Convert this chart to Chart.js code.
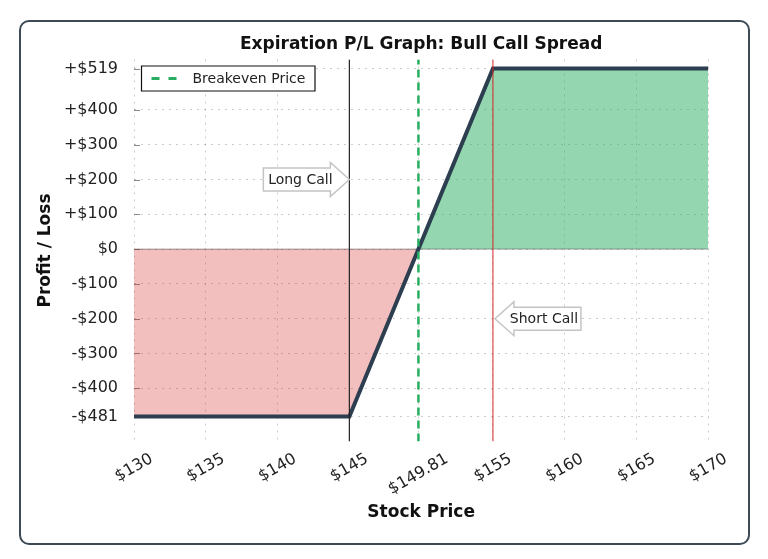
<!DOCTYPE html>
<html>
<head>
<meta charset="utf-8">
<script src="https://cdn.jsdelivr.net/npm/chart.js@4.4.1/dist/chart.umd.min.js"></script>
<style>
	html, body { margin: 0; padding: 0; background: #fff; }
	#wrap { position: relative; width: 768px; height: 559px; }
	#card {
		position: absolute; left: 19px; top: 20px; width: 731px; height: 525px;
		box-sizing: border-box; border: 2px solid #3c4a56; border-radius: 10px;
	}
	#chart { position: absolute; left: 0; top: 0; }
</style>
</head>
<body>
<div id="wrap">
	<div id="card"></div>
	<canvas id="chart" width="768" height="559"></canvas>
</div>
<script>
// bull call spread: long 145 call, short 155 call
const priceRange = [130, 170];
const strikes = [145, 155];
const breakeven = 149.81;
const plPrices = [130, 145, 155, 170];
const plValues = [-481, -481, 519, 519];
const xTicks = [130, 135, 140, 145, 149.81, 155, 160, 165, 170];
const yTicks = [-481, -400, -300, -200, -100, 0, 100, 200, 300, 400, 519];
const yLimits = [-553, 545];
const callLabels = ['Long Call', 'Short Call'];
const callLabelValues = [200, -200];

const FONT = "'DejaVu Sans', 'Liberation Sans', sans-serif";
const LINE = '#2c3e50';
const GREEN = '#27ae60';
const RED = '#d62728';

function money(v) {
	if (v > 0) return '+$' + v;
	if (v < 0) return '-$' + Math.abs(v);
	return '$0';
}

function pts(xs, ys) {
	return xs.map((x, i) => ({x: x, y: ys[i]}));
}

// loss side up to breakeven, profit side after it
const lossPts = pts(plPrices.filter(p => p < breakeven), plValues.filter((v, i) => plPrices[i] < breakeven));
lossPts.push({x: breakeven, y: 0});
const gainPts = [{x: breakeven, y: 0}].concat(pts(plPrices.filter(p => p > breakeven), plValues.filter((v, i) => plPrices[i] > breakeven)));

function vline(x) {
	return [{x: x, y: yLimits[0]}, {x: x, y: yLimits[1]}];
}

function arrowBox(ctx, tipX, tipY, dir, text) {
	const s = dir === 'right' ? -1 : 1;
	const head = 19, headH = 17, bodyH = 11.5, bodyLen = 86;
	ctx.save();
	ctx.beginPath();
	ctx.moveTo(tipX, tipY);
	ctx.lineTo(tipX + s * head, tipY - headH);
	ctx.lineTo(tipX + s * head, tipY - bodyH);
	ctx.lineTo(tipX + s * bodyLen, tipY - bodyH);
	ctx.lineTo(tipX + s * bodyLen, tipY + bodyH);
	ctx.lineTo(tipX + s * head, tipY + bodyH);
	ctx.lineTo(tipX + s * head, tipY + headH);
	ctx.closePath();
	ctx.fillStyle = '#fff';
	ctx.fill();
	ctx.strokeStyle = '#c4c4c4';
	ctx.lineWidth = 1.5;
	ctx.stroke();
	ctx.fillStyle = '#222';
	ctx.font = '14px ' + FONT;
	ctx.textAlign = 'center';
	ctx.textBaseline = 'middle';
	ctx.fillText(text, tipX + s * 49, tipY + 1);
	ctx.restore();
}

const decorations = {
	id: 'decorations',
	beforeDatasetsDraw(chart) {
		const {ctx, chartArea} = chart;
		const y = chart.scales.y;
		ctx.save();
		ctx.strokeStyle = '#8a8a8a';
		ctx.lineWidth = 1;
		yTicks.forEach(v => {
			const py = Math.round(y.getPixelForValue(v)) + 0.5;
			ctx.beginPath();
			ctx.moveTo(chartArea.left, py);
			ctx.lineTo(chartArea.left + 6, py);
			ctx.stroke();
		});
		ctx.restore();
	},
	afterDraw(chart) {
		const {ctx, chartArea} = chart;
		const x = chart.scales.x;
		const y = chart.scales.y;

		// title
		ctx.save();
		ctx.fillStyle = '#111';
		ctx.font = 'bold 17px ' + FONT;
		ctx.textAlign = 'center';
		ctx.textBaseline = 'middle';
		ctx.fillText('Expiration P/L Graph: Bull Call Spread', (chartArea.left + chartArea.right) / 2, 45);
		ctx.restore();

		// x tick labels, rotated and centred on the tick
		ctx.save();
		ctx.fillStyle = '#222';
		ctx.font = '16px ' + FONT;
		ctx.textAlign = 'center';
		ctx.textBaseline = 'middle';
		const ang = Math.PI / 6;
		xTicks.forEach(v => {
			const label = '$' + v;
			const w = ctx.measureText(label).width;
			const h = 19;
			const bh = w * Math.sin(ang) + h * Math.cos(ang);
			ctx.save();
			ctx.translate(x.getPixelForValue(v), chartArea.bottom + 8 + bh / 2);
			ctx.rotate(-ang);
			ctx.fillText(label, 0, 0);
			ctx.restore();
		});
		ctx.restore();

		// call annotations
		arrowBox(ctx, x.getPixelForValue(strikes[0]), y.getPixelForValue(callLabelValues[0]), 'right', callLabels[0]);
		arrowBox(ctx, x.getPixelForValue(strikes[1]) + 2, y.getPixelForValue(callLabelValues[1]), 'left', callLabels[1]);

		// legend
		ctx.save();
		const lx = chartArea.left + 7.5, ly = chartArea.top + 6.5;
		ctx.fillStyle = '#fff';
		ctx.strokeStyle = '#111';
		ctx.lineWidth = 1.2;
		ctx.beginPath();
		ctx.rect(lx, ly, 173.5, 25);
		ctx.fill();
		ctx.stroke();
		ctx.strokeStyle = GREEN;
		ctx.lineWidth = 3;
		ctx.setLineDash([8, 9]);
		ctx.beginPath();
		ctx.moveTo(lx + 10, ly + 12.5);
		ctx.lineTo(lx + 36, ly + 12.5);
		ctx.stroke();
		ctx.setLineDash([]);
		ctx.fillStyle = '#222';
		ctx.font = '14px ' + FONT;
		ctx.textAlign = 'left';
		ctx.textBaseline = 'middle';
		ctx.fillText('Breakeven Price', lx + 51, ly + 13);
		ctx.restore();
	}
};

new Chart(document.getElementById('chart'), {
	type: 'scatter',
	data: {
		datasets: [
			{
				label: 'Breakeven Price',
				data: vline(breakeven),
				showLine: true,
				borderColor: GREEN,
				borderWidth: 2.5,
				borderDash: [8, 5],
				pointRadius: 0,
			},
			{
				label: 'Short Call',
				data: vline(strikes[1]),
				showLine: true,
				borderColor: RED,
				borderWidth: 1,
				pointRadius: 0,
			},
			{
				label: 'Long Call',
				data: vline(strikes[0]),
				showLine: true,
				borderColor: '#222',
				borderWidth: 1.2,
				pointRadius: 0,
			},
			{
				label: 'P/L',
				data: pts(plPrices, plValues),
				showLine: true,
				borderColor: LINE,
				borderWidth: 4,
				borderJoinStyle: 'miter',
				pointRadius: 0,
			},
			{
				label: 'zero',
				data: [{x: priceRange[0], y: 0}, {x: priceRange[1], y: 0}],
				showLine: true,
				borderColor: 'rgba(50, 50, 50, 0.45)',
				borderWidth: 1,
				pointRadius: 0,
			},
			{
				label: 'profit',
				data: gainPts,
				showLine: true,
				borderWidth: 0,
				pointRadius: 0,
				fill: {value: 0},
				backgroundColor: 'rgba(39, 174, 96, 0.5)',
			},
			{
				label: 'loss',
				data: lossPts,
				showLine: true,
				borderWidth: 0,
				pointRadius: 0,
				fill: {value: 0},
				backgroundColor: 'rgba(214, 39, 40, 0.3)',
			},
		]
	},
	options: {
		responsive: false,
		animation: false,
		layout: {padding: {left: 0, right: 59.7, top: 59.5, bottom: 0}},
		plugins: {
			legend: {display: false},
			tooltip: {enabled: false},
			title: {display: false},
		},
		scales: {
			x: {
				type: 'linear',
				min: priceRange[0],
				max: priceRange[1],
				afterBuildTicks: s => { s.ticks = xTicks.map(v => ({value: v})); },
				afterFit: s => { s.height = 117.5; },
				ticks: {display: false},
				grid: {color: 'rgba(0, 0, 0, 0.2)', lineWidth: 1, drawTicks: false},
				border: {display: false, dash: [2, 5]},
				title: {
					display: true,
					text: 'Stock Price',
					color: '#111',
					font: {family: FONT, size: 17, weight: 'bold'},
					padding: {top: 4, bottom: 36},
				},
			},
			y: {
				type: 'linear',
				min: yLimits[0],
				max: yLimits[1],
				afterBuildTicks: s => { s.ticks = yTicks.map(v => ({value: v})); },
				afterFit: s => { s.width = 134; },
				ticks: {
					callback: v => money(v),
					color: '#222',
					font: {family: FONT, size: 16},
					padding: 16,
				},
				grid: {color: 'rgba(0, 0, 0, 0.2)', lineWidth: 1, drawTicks: false},
				border: {display: false, dash: [2, 5]},
				title: {
					display: true,
					text: 'Profit / Loss',
					color: '#111',
					font: {family: FONT, size: 17, weight: 'bold'},
					padding: {top: 35, bottom: 4},
				},
			},
		},
	},
	plugins: [decorations],
});
</script>
</body>
</html>
